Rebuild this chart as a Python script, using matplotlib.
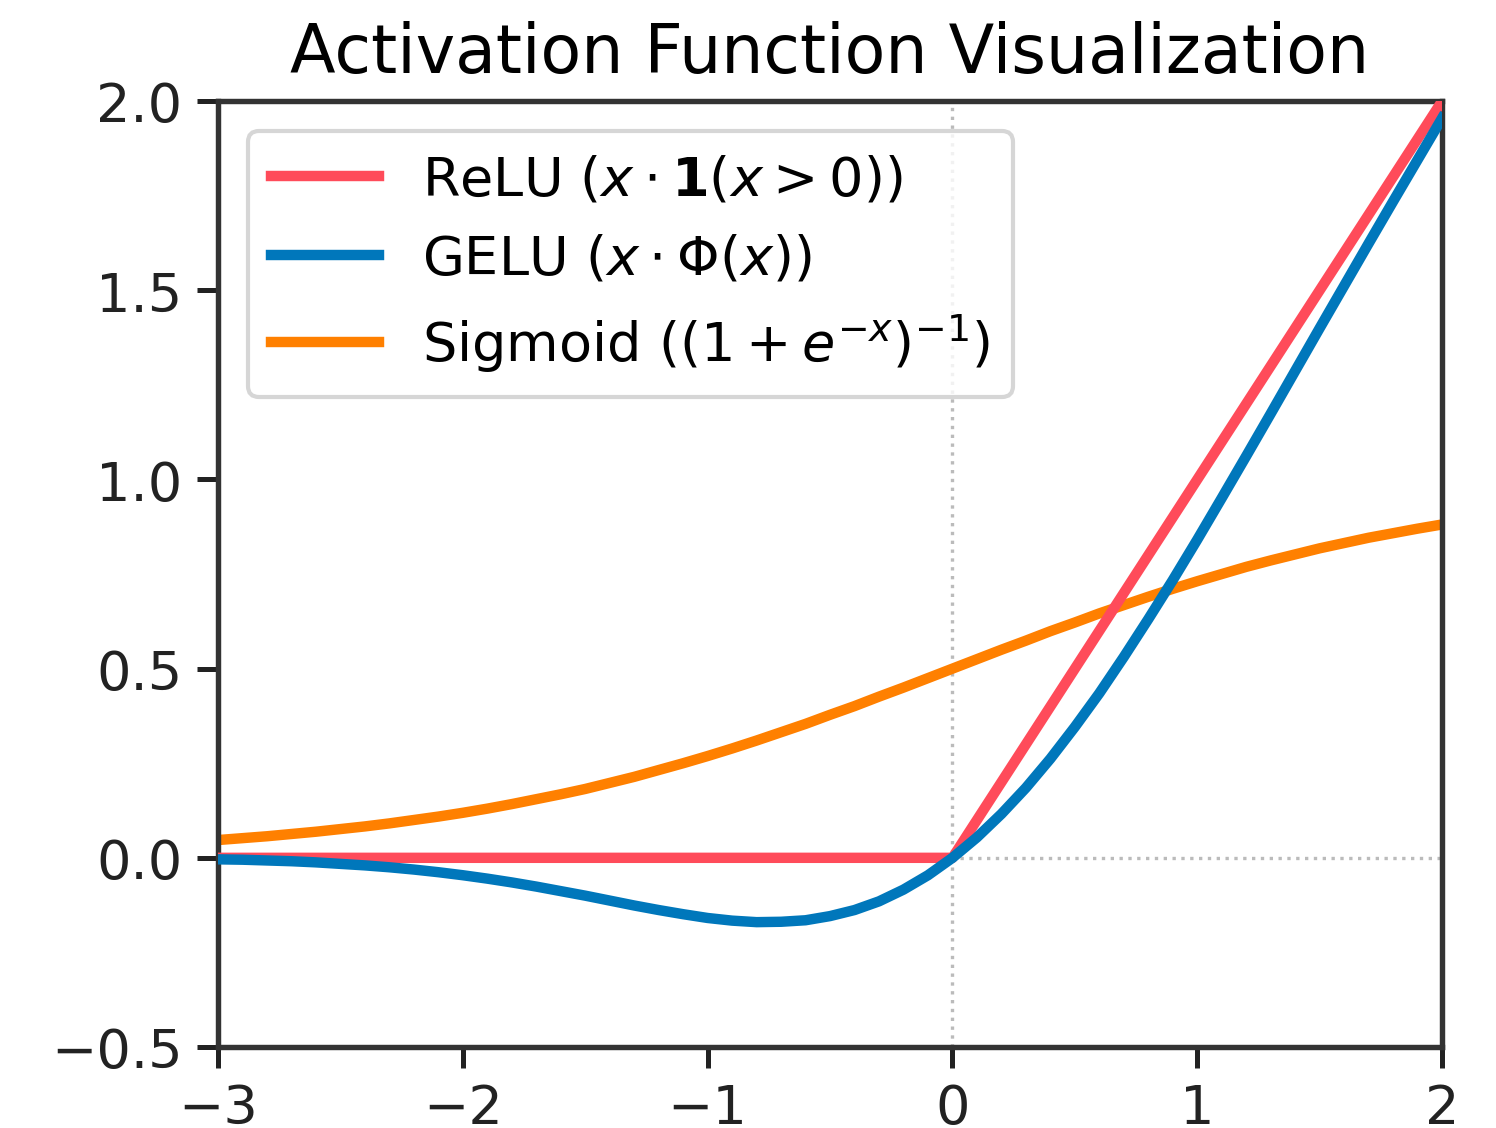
import numpy as np
import matplotlib
matplotlib.use("Agg")
import matplotlib.pyplot as plt

# --- datos ---
x = np.round(np.arange(-30, 21) / 10, 1)

relu_x = [-3.0, 0.0, 2.0]
relu_y = [0.0, 0.0, 2.0]

gelu_y = [-0.004, -0.005, -0.007, -0.009, -0.012, -0.016, -0.020, -0.025, -0.031, -0.038,
          -0.046, -0.055, -0.065, -0.076, -0.088, -0.100, -0.113, -0.126, -0.138, -0.149,
          -0.159, -0.166, -0.170, -0.169, -0.165, -0.154, -0.138, -0.115, -0.084, -0.046,
          0.000, 0.054, 0.116, 0.185, 0.262, 0.346, 0.435, 0.531, 0.631, 0.734,
          0.841, 0.951, 1.062, 1.174, 1.287, 1.400, 1.512, 1.624, 1.735, 1.845,
          1.955]

sigmoid_y = [0.047, 0.052, 0.057, 0.063, 0.069, 0.076, 0.083, 0.091, 0.100, 0.109,
             0.119, 0.130, 0.142, 0.155, 0.168, 0.182, 0.198, 0.214, 0.232, 0.250,
             0.269, 0.289, 0.310, 0.332, 0.354, 0.378, 0.401, 0.426, 0.450, 0.475,
             0.500, 0.525, 0.550, 0.574, 0.599, 0.622, 0.646, 0.668, 0.690, 0.711,
             0.731, 0.750, 0.769, 0.786, 0.802, 0.818, 0.832, 0.846, 0.858, 0.870,
             0.881]

labels = [r"ReLU ($x \cdot \mathbf{1}(x > 0)$)",
          r"GELU ($x \cdot \Phi(x)$)",
          r"Sigmoid ($(1 + e^{-x})^{-1}$)"]
colors = ["#ff4b5a", "#0077bb", "#ff8000"]

# --- figura ---
fig = plt.figure(figsize=(4.987, 3.763), dpi=300)
ax = fig.add_axes([218 / 1496, 1 - 1048 / 1129, (1442 - 218) / 1496, (1048 - 102) / 1129])

ax.axhline(0, color="#bbbbbb", linestyle=":", linewidth=0.8, zorder=1)
ax.axvline(0, color="#bbbbbb", linestyle=":", linewidth=0.8, zorder=1)

ax.plot(relu_x, relu_y, color=colors[0], linewidth=2.5, label=labels[0], zorder=3)
ax.plot(x, gelu_y, color=colors[1], linewidth=2.5, label=labels[1], zorder=4)
ax.plot(x, sigmoid_y, color=colors[2], linewidth=2.5, label=labels[2], zorder=2)

ax.set_xlim(-3, 2)
ax.set_ylim(-0.5, 2.0)
ax.set_xticks([-3, -2, -1, 0, 1, 2])
ax.set_yticks([-0.5, 0.0, 0.5, 1.0, 1.5, 2.0])
ax.tick_params(labelsize=13, length=5, width=1.2, colors="#222222")
for s in ax.spines.values():
    s.set_linewidth(1.3)
    s.set_color("#333333")

ax.set_title("Activation Function Visualization", fontsize=16, pad=7)
ax.legend(loc="upper left", fontsize=13, handlelength=2.0, borderpad=0.42,
          labelspacing=0.5, framealpha=0.8, borderaxespad=0.55)

plt.savefig("out.png", dpi=300)
